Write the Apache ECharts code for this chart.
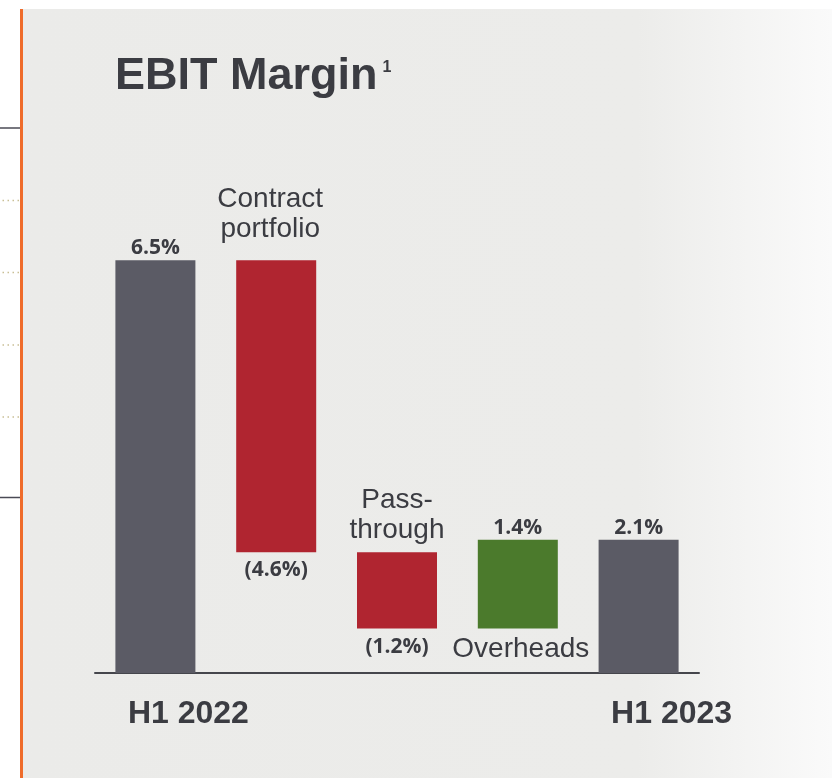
<!DOCTYPE html>
<html><head><meta charset="utf-8">
<script src="https://cdn.jsdelivr.net/npm/echarts@6/dist/echarts.min.js"></script>
<style>html,body{margin:0;padding:0;background:#fff;}#c{width:832px;height:778px;}</style>
</head><body><div id="c"></div>
<script>
const categories = ['H1 2022', 'Contract\nportfolio', 'Pass-\nthrough', 'Overheads', 'H1 2023'];
const barKinds = ['total', 'delta', 'delta', 'delta', 'total'];
const values = [6.5, -4.6, -1.2, 1.4, 2.1];
const valueLabels = ['6.5%', '(4.6%)', '(1.2%)', '1.4%', '2.1%'];
const titleText = 'EBIT Margin';
const titleNote = '1';

const C_TOTAL = '#5b5b65', C_NEG = '#b02530', C_POS = '#4b7a2c', C_TEXT = '#3b3c42';

// waterfall layout derived from the values
const base = [], height = [];
let running = 0;
values.forEach((v, i) => {
  if (barKinds[i] === 'total') { base.push(0); height.push(v); running = v; }
  else if (v < 0) { base.push(running + v); height.push(-v); running += v; }
  else { base.push(running); height.push(v); running += v; }
});

const valueFont = { fontFamily: 'Open Sans', fontWeight: 'bold', fontSize: 21, lineHeight: 22, color: C_TEXT };
const nameFont = { fontFamily: 'Liberation Sans', fontSize: 28, lineHeight: 30, color: C_TEXT };

const deltaData = height.map((h, i) => {
  const neg = values[i] < 0;
  const col = barKinds[i] === 'total' ? C_TOTAL : (neg ? C_NEG : C_POS);
  return {
    value: h,
    itemStyle: { color: col },
    label: Object.assign({ show: true, position: neg ? 'bottom' : 'top', distance: neg ? 7 : 1,
      formatter: valueLabels[i] }, valueFont)
  };
});
const lowNameData = values.map((v, i) => ({
  value: 0,
  label: (barKinds[i] === 'delta' && v > 0)
    ? Object.assign({ show: true, position: 'bottom', distance: 6, offset: [3, 0], formatter: categories[i] }, nameFont)
    : { show: false }
}));
const topNameData = values.map((v, i) => ({
  value: 0,
  label: (barKinds[i] === 'delta' && v < 0)
    ? Object.assign({ show: true, position: 'top', distance: i === 1 ? 16 : 7, offset: i === 1 ? [-6, 0] : [0, 0],
        formatter: categories[i] }, nameFont)
    : { show: false }
}));

const chart = echarts.init(document.getElementById('c'), null, { renderer: 'canvas' });
const dots = [200.5, 272.5, 345, 417];
chart.setOption({
  animation: false,
  backgroundColor: '#ffffff',
  graphic: [
    { type: 'rect', z: -10, silent: true, shape: { x: 22, y: 9, width: 810, height: 769 },
      style: { fill: new echarts.graphic.LinearGradient(0, 0, 1, 0, [
        { offset: 0, color: '#ebebe9' }, { offset: 0.76, color: '#ececea' }, { offset: 1, color: '#fafafa' }]) } },
    { type: 'rect', z: -9, silent: true, shape: { x: 20, y: 9, width: 3, height: 769 }, style: { fill: '#ef6c2b' } },
    { type: 'line', z: -9, silent: true, shape: { x1: 0, y1: 128, x2: 20, y2: 128 }, style: { stroke: '#4a4a55', lineWidth: 1.5 } },
    { type: 'line', z: -9, silent: true, shape: { x1: 0, y1: 497.5, x2: 20, y2: 497.5 }, style: { stroke: '#4a4a55', lineWidth: 1.5 } }
  ].concat(dots.map(y => ({ type: 'line', z: -9, silent: true, shape: { x1: 2.5, y1: y, x2: 20, y2: y },
      style: { stroke: '#c9bf95', lineWidth: 1.3, lineDash: [1.5, 3.5] } }))),
  title: {
    left: 115, top: 52, padding: 0,
    text: '{a|' + titleText + '}{s|' + titleNote + '}',
    textStyle: {
      rich: {
        a: { fontFamily: 'Liberation Sans', fontWeight: 'bold', fontSize: 45, lineHeight: 50, color: C_TEXT },
        s: { fontFamily: 'Liberation Sans', fontSize: 16, lineHeight: 16, color: C_TEXT, verticalAlign: 'middle', padding: [0, 0, 18, 5] }
      }
    }
  },
  grid: { left: 95, right: 133, top: 228.5, bottom: 105 },
  xAxis: {
    type: 'category', data: categories,
    axisLine: { show: true, lineStyle: { color: '#45464c', width: 2 } },
    axisTick: { show: false },
    axisLabel: {
      interval: 0, margin: 23, padding: [0, 0, 0, 66],
      fontFamily: 'Liberation Sans', fontWeight: 'bold', fontSize: 32, lineHeight: 36, color: C_TEXT,
      formatter: (v, i) => barKinds[i] === 'total' ? v : ''
    }
  },
  yAxis: { type: 'value', min: 0, max: 7, show: false, splitLine: { show: false } },
  series: [
    { name: 'base', type: 'bar', stack: 'w', barWidth: 80, silent: true, itemStyle: { color: 'rgba(0,0,0,0)' }, data: base },
    { name: 'lowName', type: 'bar', stack: 'w', silent: true, itemStyle: { color: 'rgba(0,0,0,0)' }, data: lowNameData },
    { name: 'value', type: 'bar', stack: 'w', data: deltaData },
    { name: 'topName', type: 'bar', stack: 'w', silent: true, itemStyle: { color: 'rgba(0,0,0,0)' }, data: topNameData }
  ]
});
</script></body></html>
